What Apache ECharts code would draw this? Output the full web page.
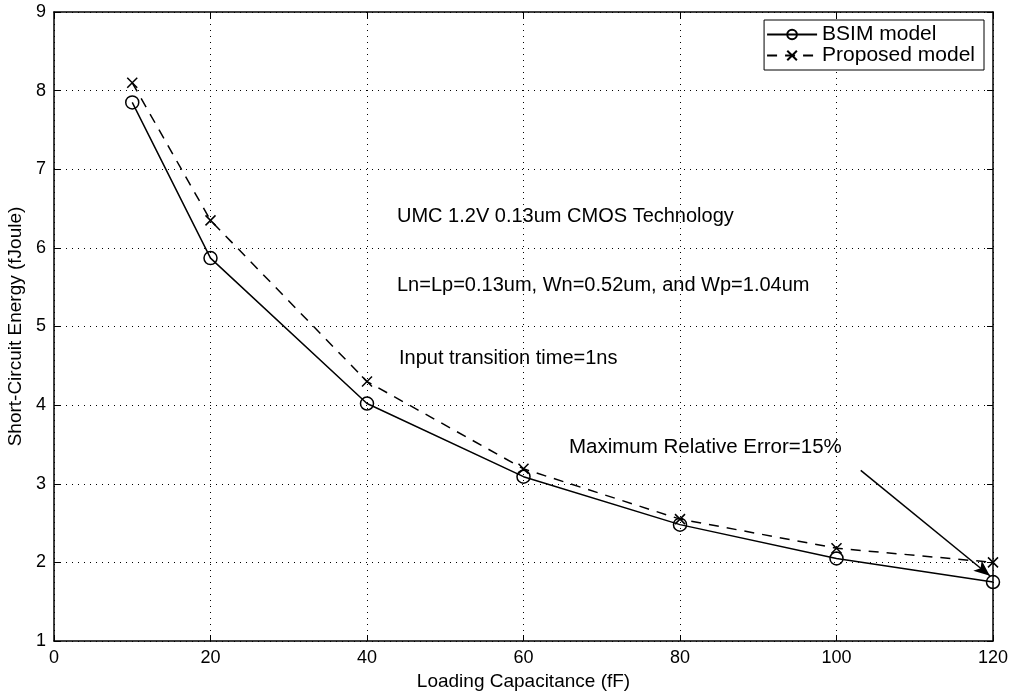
<!DOCTYPE html>
<html>
<head>
<meta charset="utf-8">
<script src="https://cdn.jsdelivr.net/npm/echarts@6/dist/echarts.min.js"></script>
<style>
  html, body { margin: 0; padding: 0; background: #fff; }
  #main { width: 1018px; height: 694px; }
</style>
</head>
<body>
<div id="main"></div>
<script>
// loading capacitance (fF)
var capacitance = [10, 20, 40, 60, 80, 100, 120];
// short-circuit energy (fJoule)
var bsimEnergy = [7.85, 5.87, 4.02, 3.09, 2.48, 2.05, 1.75];
var proposedEnergy = [8.10, 6.35, 4.30, 3.19, 2.55, 2.18, 2.00];
var xTicks = [0, 20, 40, 60, 80, 100, 120];
var yTicks = [1, 2, 3, 4, 5, 6, 7, 8, 9];
// arrow for the max error note
var arrowFrom = [103.1, 3.17];
var arrowTo = [119.6, 1.83];

var font = 'Liberation Sans, Arial, Helvetica, sans-serif';
var crossPath = 'path://M0,0L10,10M10,0L0,10';

function pairs(xs, ys) {
    var out = [];
    for (var i = 0; i < xs.length; i++) {
        out.push([xs[i], ys[i]]);
    }
    return out;
}

// box axis (matlab style): black line, ticks pointing inward
function boxAxis(pos, min, max, step, withLabels) {
    var ax = {
        type: 'value',
        position: pos,
        min: min,
        max: max,
        interval: step,
        axisLine: {show: true, onZero: false, lineStyle: {color: '#000', width: 1.5}},
        axisTick: {show: true, inside: true, length: 6, lineStyle: {color: '#000', width: 1}},
        axisLabel: {show: false},
        splitLine: {show: false}
    };
    if (withLabels) {
        ax.axisLabel = {
            show: true, fontFamily: font, fontSize: 18, color: '#000', margin: 8,
            formatter: function (v) {
                return (xTicks.indexOf(v) >= 0 || yTicks.indexOf(v) >= 0) ? String(v) : '';
            }
        };
        ax.splitLine = {show: true, lineStyle: {color: '#000', type: [1, 5], width: 1}};
    }
    return ax;
}

var myChart = echarts.init(document.getElementById('main'));

var xBottom = boxAxis('bottom', 0, 120, 20, true);
xBottom.name = 'Loading Capacitance (fF)';
xBottom.nameLocation = 'middle';
xBottom.nameGap = 29;
xBottom.nameTextStyle = {fontFamily: font, fontSize: 19, color: '#000'};

var yLeft = boxAxis('left', 1, 9, 1, true);
yLeft.name = 'Short-Circuit Energy (fJoule)';
yLeft.nameLocation = 'middle';
yLeft.nameGap = 27;
yLeft.nameTextStyle = {fontFamily: font, fontSize: 19, color: '#000'};

var option = {
    backgroundColor: '#fff',
    animation: false,
    grid: {left: 54, right: 25, top: 12, bottom: 53, containLabel: false, outerBoundsMode: 'none'},
    legend: {
        right: 34,
        top: 20,
        orient: 'vertical',
        align: 'left',
        itemWidth: 50,
        itemHeight: 12,
        itemGap: 0,
        padding: [4, 9, 4, 2],
        backgroundColor: '#fff',
        borderColor: '#000',
        borderWidth: 1,
        borderRadius: 0,
        textStyle: {fontFamily: font, fontSize: 21, color: '#000', lineHeight: 18},
        data: ['BSIM model', 'Proposed model']
    },
    xAxis: [xBottom, boxAxis('top', 0, 120, 20, false)],
    yAxis: [yLeft, boxAxis('right', 1, 9, 1, false)],
    series: [
        {
            name: 'BSIM model',
            type: 'line',
            data: pairs(capacitance, bsimEnergy),
            symbol: 'circle',
            symbolSize: 13,
            showAllSymbol: true,
            lineStyle: {color: '#000', width: 1.5, type: 'solid'},
            itemStyle: {color: 'rgba(0,0,0,0)', borderColor: '#000', borderWidth: 1.5},
            z: 3
        },
        {
            name: 'Proposed model',
            type: 'line',
            data: pairs(capacitance, proposedEnergy),
            symbol: crossPath,
            symbolSize: 10,
            showAllSymbol: true,
            lineStyle: {color: '#000', width: 1.5, type: [10, 8]},
            itemStyle: {color: 'rgba(0,0,0,0)', borderColor: '#000', borderWidth: 1.5},
            markLine: {
                silent: true,
                symbol: ['none', 'arrow'],
                symbolSize: [10, 16],
                label: {show: false},
                lineStyle: {color: '#000', width: 1.5, type: 'solid'},
                data: [[{coord: arrowFrom}, {coord: arrowTo}]]
            },
            z: 4
        }
    ],
    graphic: [
        {type: 'text', left: 397, top: 206,
            style: {text: 'UMC 1.2V 0.13um CMOS Technology', font: '20px ' + font, fill: '#000'}},
        {type: 'text', left: 397, top: 275,
            style: {text: 'Ln=Lp=0.13um, Wn=0.52um, and Wp=1.04um', font: '20px ' + font, fill: '#000'}},
        {type: 'text', left: 399, top: 348,
            style: {text: 'Input transition time=1ns', font: '20px ' + font, fill: '#000'}},
        {type: 'text', left: 569, top: 437,
            style: {text: 'Maximum Relative Error=15%', font: '20.5px ' + font, fill: '#000'}}
    ]
};

myChart.setOption(option);
</script>
</body>
</html>
